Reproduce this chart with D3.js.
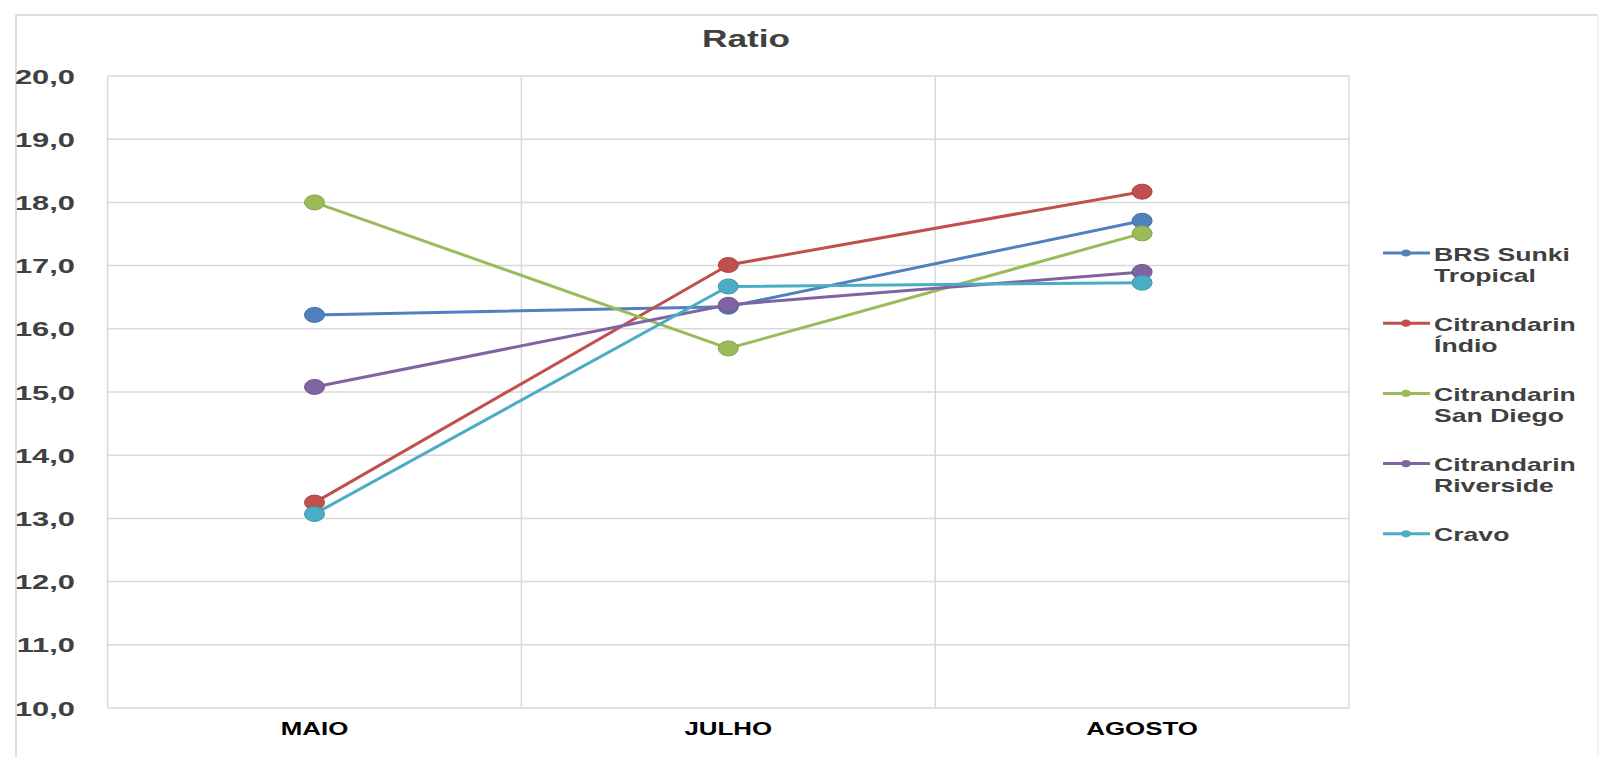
<!DOCTYPE html>
<html>
<head>
<meta charset="utf-8">
<script src="https://cdn.jsdelivr.net/npm/d3@7"></script>
<style>
  html, body { margin: 0; padding: 0; background: #ffffff; }
  svg { display: block; }
  text { font-family: "Liberation Sans", Arial, sans-serif; font-weight: bold; }
</style>
</head>
<body>
<svg id="chart" width="1607" height="757"></svg>
<script>
// Months on the x axis
const months = ["MAIO", "JULHO", "AGOSTO"];

// Rootstock names, as shown in the legend (two lines each where wrapped)
const seriesNames = ["BRS Sunki Tropical", "Citrandarin Índio", "Citrandarin San Diego", "Citrandarin Riverside", "Cravo"];
const legendLines = [["BRS Sunki", "Tropical"], ["Citrandarin", "Índio"], ["Citrandarin", "San Diego"], ["Citrandarin", "Riverside"], ["Cravo"]];

// Ratio values per month (MAIO, JULHO, AGOSTO)
const brsSunki    = [16.22, 16.35, 17.71];
const indio       = [13.25, 17.01, 18.17];
const sanDiego    = [18.00, 15.69, 17.51];
const riverside   = [15.08, 16.38, 16.90];
const cravo       = [13.07, 16.67, 16.73];

// Y axis ticks
const yTicks = [10, 11, 12, 13, 14, 15, 16, 17, 18, 19, 20];

const seriesValues = [brsSunki, indio, sanDiego, riverside, cravo];
const colors = ["#4F81BD", "#C0504D", "#9BBB59", "#8064A2", "#4BACC6"];

const svg = d3.select("#chart");
const SX = 1.4; // horizontal widening of the lettering

const plot = { left: 107.6, right: 1349, top: 76, bottom: 708 };

const x = d3.scaleBand().domain(months).range([plot.left, plot.right]).padding(0);
const y = d3.scaleLinear().domain([10, 20]).range([plot.bottom, plot.top]);
const cx = m => x(m) + x.bandwidth() / 2;

const commaFmt = v => d3.format(".1f")(v).replace(".", ",");

// Chart frame
svg.append("path")
  .attr("d", `M16,757 L16,15 L1598,15`)
  .attr("fill", "none").attr("stroke", "#d4d4d4").attr("stroke-width", 1.5);
svg.append("path")
  .attr("d", `M1598,15 L1598,757`)
  .attr("fill", "none").attr("stroke", "#f0f0f0").attr("stroke-width", 1.5);

// Horizontal gridlines
svg.append("g").selectAll("line").data(yTicks).join("line")
  .attr("x1", plot.left).attr("x2", plot.right)
  .attr("y1", d => y(d)).attr("y2", d => y(d))
  .attr("stroke", "#d9d9d9").attr("stroke-width", 1.5);

// Vertical gridlines at category boundaries
const bounds = months.map(m => x(m)).concat([x(months[months.length - 1]) + x.bandwidth()]);
svg.append("g").selectAll("line").data(bounds).join("line")
  .attr("x1", d => d).attr("x2", d => d)
  .attr("y1", plot.top).attr("y2", plot.bottom)
  .attr("stroke", "#d9d9d9").attr("stroke-width", 1.5);

// Y tick labels
svg.append("g").selectAll("text").data(yTicks).join("text")
  .attr("transform", d => `translate(75,${y(d) + 7.5}) scale(1.47,1)`)
  .attr("text-anchor", "end")
  .attr("font-size", 21)
  .attr("fill", "#404040")
  .text(d => commaFmt(d));

// X category labels
svg.append("g").selectAll("text").data(months).join("text")
  .attr("transform", d => `translate(${cx(d)},735) scale(${SX},1)`)
  .attr("text-anchor", "middle")
  .attr("font-size", 18.5)
  .attr("fill", "#000000")
  .text(d => d);

// Title
svg.append("text")
  .attr("transform", `translate(746,47) scale(1.47,1)`)
  .attr("text-anchor", "middle")
  .attr("font-size", 24)
  .attr("fill", "#404040")
  .text("Ratio");

// Series lines and markers
const line = d3.line().x((d, i) => cx(months[i])).y(d => y(d));
seriesValues.forEach((vals, s) => {
  const g = svg.append("g").attr("class", "series");
  g.append("path")
    .attr("d", line(vals))
    .attr("fill", "none")
    .attr("stroke", colors[s])
    .attr("stroke-width", 3)
    .attr("stroke-linejoin", "round");
  g.selectAll("ellipse").data(vals).join("ellipse")
    .attr("cx", (d, i) => cx(months[i]))
    .attr("cy", d => y(d))
    .attr("rx", 10).attr("ry", 7.5)
    .attr("fill", colors[s])
    .attr("stroke", d3.color(colors[s]).darker(0.4))
    .attr("stroke-width", 1);
});

// Legend
const legendY0 = 253, legendStep = 70.2;
const lg = svg.append("g");
seriesNames.forEach((name, s) => {
  const ly = legendY0 + s * legendStep;
  lg.append("line")
    .attr("x1", 1383).attr("x2", 1430).attr("y1", ly).attr("y2", ly)
    .attr("stroke", colors[s]).attr("stroke-width", 3);
  lg.append("ellipse")
    .attr("cx", 1406).attr("cy", ly).attr("rx", 5).attr("ry", 3.6)
    .attr("fill", colors[s]);
  legendLines[s].forEach((t, k) => {
    lg.append("text")
      .attr("transform", `translate(1434,${ly + 7.5 + k * 21}) scale(${SX},1)`)
      .attr("font-size", 19)
      .attr("fill", "#404040")
      .text(t);
  });
});
</script>
</body>
</html>
